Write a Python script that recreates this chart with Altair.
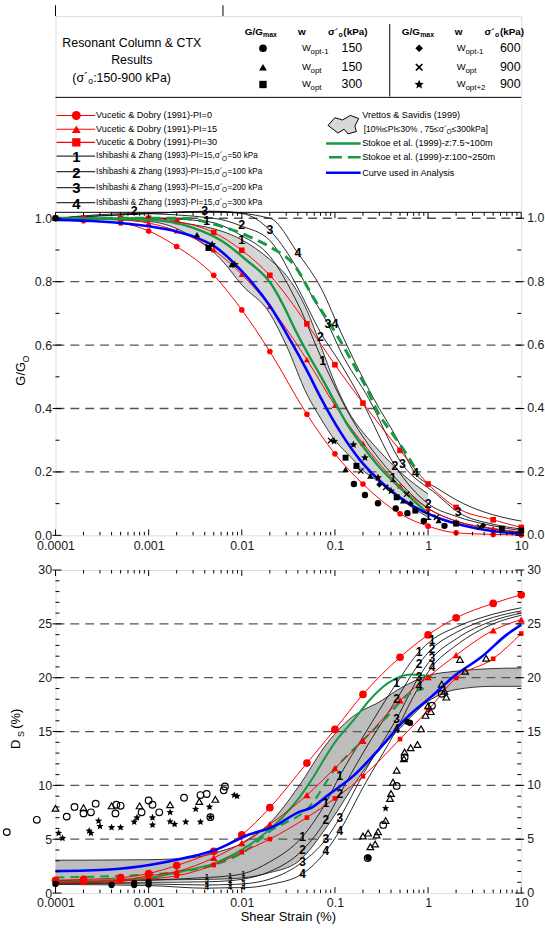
import altair as alt
import pandas as pd

# ---------------- chart data ----------------
VD_STRAIN = [0.0001, 0.0002, 0.0005, 0.001, 0.002, 0.005, 0.01, 0.02, 0.05, 0.1, 0.2, 0.5, 1, 2, 5, 10]
G_VD_PI0 = [1.0, 0.992, 0.985, 0.96, 0.911, 0.82, 0.711, 0.58, 0.382, 0.257, 0.162, 0.068, 0.029, 0.008, 0.003, 0.001]
G_VD_PI15 = [1.0, 1.0, 0.995, 0.985, 0.96, 0.9, 0.823, 0.722, 0.554, 0.41, 0.29, 0.156, 0.085, 0.045, 0.022, 0.01]
G_VD_PI30 = [1.0, 1.0, 1.0, 1.0, 0.99, 0.955, 0.899, 0.82, 0.667, 0.538, 0.417, 0.268, 0.162, 0.088, 0.049, 0.025]
D_VD_PI0 = [1.18, 1.27, 1.43, 1.82, 2.56, 3.88, 5.41, 7.93, 12.07, 15.2, 18.45, 21.9, 23.97, 25.56, 26.9, 27.7]
D_VD_PI15 = [1.0, 1.05, 1.2, 1.6, 2.0, 3.27, 4.65, 6.39, 9.09, 11.6, 14.15, 17.9, 20.07, 22.1, 24.4, 25.4]
D_VD_PI30 = [0.95, 1.0, 1.1, 1.3, 1.6, 2.6, 3.79, 5.01, 7.01, 8.79, 10.84, 14.3, 17.0, 19.98, 21.76, 24.1]

BLUE_G_S = [1e-4, 3e-4, 1e-3, 2e-3, 3.3e-3, 5e-3, 0.01, 0.02, 0.034, 0.05, 0.071, 0.116, 0.19, 0.33, 0.63, 1.23, 2.4, 6.3, 10]
BLUE_G = [0.995, 0.99, 0.975, 0.958, 0.938, 0.913, 0.833, 0.724, 0.61, 0.52, 0.432, 0.323, 0.234, 0.162, 0.099, 0.057, 0.031, 0.01, 0.006]
BLUE_D_S = [1e-4, 3.8e-4, 1.1e-3, 2.5e-3, 5.3e-3, 0.0118, 0.022, 0.042, 0.055, 0.084, 0.16, 0.3, 0.59, 1.1, 2.0, 3.8, 7.0, 10]
BLUE_D = [2.04, 2.19, 2.65, 3.27, 4.03, 5.41, 6.18, 7.56, 7.9, 9.09, 10.93, 13.39, 16.3, 18.29, 20.29, 21.97, 24.0, 24.9]

GREEN_G_S = [1e-4, 1e-3, 3e-3, 6e-3, 0.011, 0.021, 0.027, 0.037, 0.055, 0.068, 0.1, 0.136, 0.2, 0.282, 0.59, 0.95]
GREEN_G = [1.0, 0.995, 0.97, 0.93, 0.87, 0.79, 0.734, 0.651, 0.557, 0.51, 0.42, 0.349, 0.28, 0.224, 0.13, 0.075]
GREEN_D_S = [1e-4, 1e-3, 0.0019, 0.0052, 0.0108, 0.0225, 0.042, 0.055, 0.1, 0.16, 0.24, 0.37, 0.66, 1.1]
GREEN_D = [1.05, 1.4, 1.89, 2.8, 4.19, 6.33, 8.94, 10.4, 14.0, 16.1, 18.0, 19.5, 20.3, 20.1]

GDASH_G_S = [1e-4, 1e-3, 2.3e-3, 5.2e-3, 0.0118, 0.02, 0.037, 0.06, 0.106, 0.16, 0.21, 0.3, 0.42, 0.59, 0.8]
GDASH_G = [1.0, 1.0, 1.0, 0.98, 0.943, 0.91, 0.85, 0.745, 0.63, 0.537, 0.474, 0.38, 0.318, 0.255, 0.19]
GDASH_D_S = [1e-4, 1e-3, 0.005, 0.0108, 0.02, 0.055, 0.1, 0.2, 0.37, 0.59, 0.9]
GDASH_D = [1.45, 1.73, 2.6, 3.88, 5.72, 8.17, 11.5, 14.2, 16.45, 18.3, 18.97]

BAND_G_S = [1e-4, 1e-3, 3e-3, 6e-3, 0.01, 0.02, 0.03, 0.05, 0.07, 0.1, 0.15, 0.2, 0.3, 0.5, 1.0]
BAND_G_HI = [1.0, 0.995, 0.98, 0.96, 0.932, 0.87, 0.82, 0.71, 0.6, 0.48, 0.375, 0.325, 0.266, 0.2, 0.13]
BAND_G_LO = [1.0, 0.99, 0.94, 0.87, 0.79, 0.70, 0.6, 0.445, 0.37, 0.30, 0.245, 0.205, 0.168, 0.115, 0.057]
BAND_D_S = [1e-4, 1e-3, 3e-3, 6e-3, 0.01, 0.02, 0.04, 0.084, 0.146, 0.2, 0.28, 0.5, 1.0, 2.0, 5, 10]
BAND_D_HI = [3.05, 3.1, 3.3, 3.9, 4.6, 6.5, 9.8, 14.0, 16.2, 17.0, 17.6, 19.0, 20.2, 20.6, 20.85, 20.9]
BAND_D_LO = [1.18, 1.2, 1.25, 1.3, 1.4, 1.9, 2.9, 6.3, 9.5, 11.3, 13.0, 15.3, 17.8, 18.9, 19.2, 19.2]

IZ1_G_S = [1e-4, 1e-3, 0.0042, 0.01, 0.02, 0.04, 0.074, 0.15, 0.3, 0.42, 1, 2, 5, 10]
IZ1_G = [1.0, 1.0, 0.99, 0.945, 0.88, 0.73, 0.55, 0.37, 0.24, 0.19, 0.085, 0.045, 0.02, 0.01]
IZ2_G_S = [1e-4, 7e-4, 0.005, 0.01, 0.02, 0.04, 0.07, 0.116, 0.19, 0.44, 1, 2, 5, 10]
IZ2_G = [1.0, 1.015, 1.0, 0.975, 0.93, 0.78, 0.64, 0.54, 0.43, 0.22, 0.10, 0.06, 0.03, 0.015]
IZ3_G_S = [1e-4, 1e-3, 0.004, 0.01, 0.02, 0.036, 0.059, 0.084, 0.116, 0.23, 0.53, 1.23, 2.1, 5, 10]
IZ3_G = [1.0, 1.015, 1.022, 1.015, 0.962, 0.86, 0.745, 0.667, 0.578, 0.432, 0.224, 0.13, 0.073, 0.035, 0.02]
IZ4_G_S = [1e-4, 1e-3, 0.005, 0.02, 0.04, 0.072, 0.116, 0.17, 0.26, 0.46, 0.73, 1.23, 2.4, 6.3, 10]
IZ4_G = [1.0, 1.015, 1.022, 1.0, 0.89, 0.776, 0.64, 0.537, 0.432, 0.307, 0.195, 0.15, 0.1, 0.057, 0.045]

IZ_D_S = [1e-4, 1e-3, 0.0042, 0.0075, 0.0104, 0.02, 0.045, 0.08, 0.113, 0.2, 0.46, 0.8, 1.1, 2, 5, 10]
IZ1_D = [1.1, 1.2, 1.45, 1.6, 1.8, 2.9, 5.25, 8.4, 10.9, 14.5, 19.5, 22.4, 23.5, 24.7, 25.9, 26.5]
IZ2_D = [1.0, 1.0, 1.05, 1.15, 1.3, 2.0, 4.0, 6.8, 9.2, 13.0, 18.0, 21.3, 22.7, 24.2, 25.6, 26.2]
IZ3_D = [0.9, 0.85, 0.75, 0.8, 0.85, 1.3, 2.9, 5.0, 7.0, 11.0, 16.2, 20.1, 21.8, 23.6, 25.3, 26.0]
IZ4_D = [0.8, 0.7, 0.45, 0.5, 0.5, 0.8, 1.8, 3.9, 5.8, 9.8, 15.2, 19.2, 21.0, 23.0, 25.0, 25.8]

IZG_LBL_T = ["2", "3", "1", "1", "2", "3", "4", "2", "1", "3", "4", "1", "2", "3", "4", "2", "1", "3"]
IZG_LBL_S = [0.0007, 0.004, 0.0042, 0.01, 0.01, 0.02, 0.04, 0.07, 0.074, 0.084, 0.1, 0.42, 0.44, 0.53, 0.73, 1.0, 1.0, 2.1]
IZG_LBL_V = [1.022, 1.022, 0.99, 0.93, 0.978, 0.962, 0.89, 0.625, 0.55, 0.667, 0.667, 0.18, 0.22, 0.224, 0.195, 0.10, 0.06, 0.073]

# labels along the damping curves: low-strain stacks, then mid/high strain
IZD_LO_T = ["1", "2", "3", "4"] * 3
IZD_LO_S = [0.0042] * 4 + [0.0075] * 4 + [0.0104] * 4
IZD_LO_V = [1.45, 1.05, 0.75, 0.45, 1.6, 1.15, 0.8, 0.5, 1.8, 1.3, 0.85, 0.5]
IZD_HI_T = ["1", "2", "3", "4"] * 6
IZD_HI_S = [0.045] * 4 + [0.08] * 4 + [0.113] * 4 + [0.46] * 4 + [0.8] * 4 + [1.1] * 4
IZD_HI_V = [5.25, 4.0, 2.9, 1.8, 8.4, 6.8, 5.0, 3.9, 10.9, 9.2, 7.0, 5.8,
            19.5, 18.0, 16.2, 15.2, 22.4, 21.3, 20.1, 19.2, 23.5, 22.7, 21.8, 21.0]

# test points, G/Gmax
PG_CIRC_S = [1e-4, 0.16, 0.21, 0.29, 0.45, 0.6, 0.9, 1.5]
PG_CIRC = [1.0, 0.162, 0.127, 0.101, 0.085, 0.07, 0.045, 0.03]
PG_TRI_S = [1e-4, 3.3e-3, 7.8e-3, 0.13, 0.24, 0.54, 1.3]
PG_TRI = [1.0, 0.948, 0.854, 0.208, 0.1875, 0.109, 0.047]
PG_SQR_S = [4.4e-3, 0.13, 0.17, 0.46, 0.73, 2.0, 6.2, 10]
PG_SQR = [0.906, 0.245, 0.219, 0.12, 0.078, 0.037, 0.021, 0.015]
PG_DIA_S = [1e-4, 0.3, 0.65, 3.9]
PG_DIA = [1.0, 0.16, 0.1, 0.031]
PG_X_S = [4.4e-3, 0.09, 0.19, 0.35, 0.59, 1.23, 3.6]
PG_X = [0.91, 0.299, 0.203, 0.151, 0.13, 0.057, 0.026]
PG_STAR_S = [4.8e-3, 8.4e-3, 0.098, 0.158, 0.21, 0.29, 0.4]
PG_STAR = [0.917, 0.854, 0.297, 0.286, 0.245, 0.182, 0.14]

# test points, damping
PD_OC_S = [3.0e-5, 6.3e-5, 1.32e-4, 1.6e-4, 2e-4, 2.4e-4, 2.7e-4, 4.4e-4, 4.5e-4, 5e-4, 8.4e-4, 1e-3, 1.1e-3,
           1.3e-3, 2.4e-3, 3.6e-3, 4.2e-3, 4.6e-3, 6.4e-3, 6.6e-3, 0.225, 0.33, 0.46, 0.56, 1.1, 1.4]
PD_OC = [5.66, 6.8, 7.1, 8.0, 7.4, 7.5, 8.3, 7.4, 8.2, 8.1, 7.5, 8.6, 8.2, 7.5, 8.85, 9.1, 9.2, 7.05, 9.55, 9.9,
         3.25, 6.33, 9.95, 12.6, 17.4, 18.5]
PD_OT_S = [1e-4, 2e-4, 4e-4, 8e-4, 1.7e-3, 3.5e-3, 5.2e-3, 0.2, 0.227, 0.24, 0.27, 0.28, 0.29, 0.35, 0.39, 0.4, 0.42,
           0.46, 0.55, 0.56, 0.65, 0.77, 0.84, 0.94, 1.0, 1.07, 1.4, 1.5, 1.57, 2.2, 2.5, 4.2]
PD_OT = [7.87, 7.93, 8.1, 8.1, 8.2, 8.5, 8.7, 5.3, 5.57, 4.3, 4.55, 5.4, 5.7, 6.73, 8.79, 9.25, 10.3, 11.4, 12.47,
         13.1, 13.5, 13.8, 15.25, 16.5, 17.4, 16.85, 19.4, 18.75, 18.2, 21.7, 20.6, 21.8]
PD_STAR_S = [1.08e-4, 1.19e-4, 2.3e-4, 2.4e-4, 2.9e-4, 3e-4, 4e-4, 5e-4, 7e-4, 7.5e-4, 1.1e-3, 1.1e-3, 1.7e-3,
             1.7e-3, 1.9e-3, 2.5e-3, 3.2e-3, 3.6e-3, 4.5e-3, 4.6e-3, 8.3e-3, 8.9e-3, 0.35]
PD_STAR = [5.57, 5.1, 5.78, 5.57, 6.7, 6.2, 6.09, 6.09, 6.6, 7.0, 6.33, 7.0, 6.64, 7.5, 6.4, 6.6, 7.8, 6.6, 8.0,
           7.05, 9.1, 9.0, 7.87]
PD_FC_S = [1e-4, 4e-4, 7e-4, 7e-4, 1e-3, 1e-3, 0.228, 0.6, 0.64]
PD_FC = [0.85, 0.75, 0.75, 0.95, 0.8, 1.05, 3.3, 15.9, 15.8]

X_LABELS = [0.0001, 0.001, 0.01, 0.1, 1, 10]
G_LABELS = [0.0, 0.2, 0.4, 0.6, 0.8, 1.0]
D_LABELS = [0, 5, 10, 15, 20, 25, 30]

# ---------------- layout / style ----------------
W, HG, HD = 470, 524, 326
GMAX = HG / 320.0
FONT = "Liberation Sans, Arial, Helvetica, sans-serif"
RED, GREEN, BLUE, GRID = "#ff0000", "#139a43", "#0000ff", "#555555"
STAR = "M0,-1L0.265,-0.364L0.951,-0.309L0.428,0.139L0.588,0.809L0,0.45L-0.588,0.809L-0.428,0.139L-0.951,-0.309L-0.265,-0.364Z"
XMARK = "M-1,-0.7L-0.7,-1L0,-0.3L0.7,-1L1,-0.7L0.3,0L1,0.7L0.7,1L0,0.3L-0.7,1L-1,0.7L-0.3,0Z"
BLOB = "M-1,0.05L-0.55,-0.45L-0.05,-0.3L0.45,-0.6L1,-0.4L0.75,0.1L0.85,0.45L0.3,0.6L0.05,0.3L-0.35,0.55Z"
ONE = pd.DataFrame({"one": [1]})

xs = alt.Scale(type="log", domain=[1e-4, 10], nice=False)
XAX = alt.Axis(values=X_LABELS, format=".4~f", ticks=False, tickSize=0, domain=False, grid=False,
               labelPadding=4, labelFont=FONT, labelFontSize=12.5, labelColor="#1a1a1a",
               labelFlush=False, labelOverlap=False, title=None)
X = alt.X("s:Q", scale=xs, axis=XAX)
YG = alt.Y("v:Q", scale=alt.Scale(domain=[0, GMAX], nice=False, zero=False),
           axis=alt.Axis(values=G_LABELS, format=".1f", ticks=False, tickSize=0, domain=False, grid=False,
                         labelPadding=4, labelFont=FONT, labelFontSize=12.5, labelColor="#1a1a1a", title=None))
YD = alt.Y("v:Q", scale=alt.Scale(domain=[0, 30], nice=False),
           axis=alt.Axis(values=D_LABELS, format="d", ticks=False, tickSize=0, domain=False, grid=False,
                         labelPadding=4, labelFont=FONT, labelFontSize=12.5, labelColor="#1a1a1a", title=None))


def df(s, v, **cols):
    d = pd.DataFrame({"s": s, "v": v})
    for k, val in cols.items():
        d[k] = val
    return d


def line(d, Y, color, width, dash=None, interp="monotone"):
    kw = dict(color=color, strokeWidth=width, interpolate=interp)
    if dash:
        kw["strokeDash"] = dash
    enc = dict(x=X, y=Y)
    if "g" in d.columns:
        enc["detail"] = "g:N"
    return alt.Chart(d).mark_line(**kw).encode(**enc)


def pts(d, Y, shape, size, color="black", filled=True, sw=1.0):
    return alt.Chart(d).mark_point(shape=shape, size=size, filled=filled, color=color, opacity=1,
                                   strokeWidth=sw).encode(x=X, y=Y)


def txt(x, y, t, size=9.2, align="left", weight="normal", font=FONT, color="black", angle=None):
    kw = dict(text=t, align=align, baseline="middle", fontSize=size, fontWeight=weight, font=font, color=color)
    if angle is not None:
        kw["angle"] = angle
    return alt.Chart(ONE).mark_text(**kw).encode(x=alt.value(x), y=alt.value(y))


def hrule(x1, x2, y, color="black", width=1.0, dash=None):
    kw = dict(color=color, strokeWidth=width)
    if dash:
        kw["strokeDash"] = dash
    return alt.Chart(ONE).mark_rule(**kw).encode(x=alt.value(x1), x2=alt.value(x2), y=alt.value(y))


def vrule(x, y1, y2, color="black", width=1.0):
    return alt.Chart(ONE).mark_rule(color=color, strokeWidth=width).encode(
        x=alt.value(x), y=alt.value(y1), y2=alt.value(y2))


def sym(x, y, shape, size, color="black", filled=True, stroke=None):
    kw = dict(shape=shape, size=size, filled=filled, color=color, opacity=1)
    if stroke:
        kw["stroke"] = stroke
        kw["strokeWidth"] = 1
    return alt.Chart(ONE).mark_point(**kw).encode(x=alt.value(x), y=alt.value(y))


def frame_ticks(Y, H, top, major_y, minor_y, fmt):
    layers = []
    xmaj = pd.DataFrame({"s": [1e-4, 1e-3, 1e-2, 0.1, 1, 10]})
    xmin = pd.DataFrame({"s": [m * 10.0 ** k for k in range(-4, 1) for m in range(2, 10)]})
    for d, ln in ((xmaj, 6), (xmin, 3.5)):
        layers.append(alt.Chart(d).mark_rule(color="black").encode(x=X, y=alt.value(H), y2=alt.value(H - ln)))
        layers.append(alt.Chart(d).mark_rule(color="black").encode(x=X, y=alt.value(top), y2=alt.value(top + ln)))
    ymaj = pd.DataFrame({"v": major_y})
    ymin = pd.DataFrame({"v": minor_y})
    layers.append(alt.Chart(ymaj).mark_rule(color="black").encode(y=Y, x=alt.value(-3), x2=alt.value(6)))
    layers.append(alt.Chart(ymin).mark_rule(color="black").encode(y=Y, x=alt.value(0), x2=alt.value(4)))
    layers.append(alt.Chart(ymaj).mark_rule(color="black").encode(y=Y, x=alt.value(W + 3), x2=alt.value(W - 6)))
    layers.append(alt.Chart(ymin).mark_rule(color="black").encode(y=Y, x=alt.value(W), x2=alt.value(W - 4)))
    lab = pd.DataFrame({"v": major_y, "lab": [format(v, fmt) for v in major_y]})
    layers.append(alt.Chart(lab).mark_text(align="left", baseline="middle", font=FONT, fontSize=12.5,
                                           color="#1a1a1a").encode(y=Y, x=alt.value(W + 6), text="lab:N"))
    return layers


def gridlines(Y, vals):
    return alt.Chart(pd.DataFrame({"v": vals})).mark_rule(color=GRID, strokeWidth=1.3, strokeDash=[9, 6]).encode(
        y=Y, x=alt.value(0), x2=alt.value(W))


# ================= G / Gmax chart =================
gL = []
gL.append(vrule(-52.3, 0, 1, color="white"))
# fragments of the frame above the legend box
gL.append(vrule(0, -11, 0))
gL.append(vrule(169, -11, 0))
band_g = df(BAND_G_S, BAND_G_HI, v2=BAND_G_LO)
gL.append(alt.Chart(band_g).mark_area(color="#d5d5d5", interpolate="monotone").encode(x=X, y=YG, y2="v2:Q"))
gL.append(gridlines(YG, [0.2, 0.4, 0.6, 0.8, 1.0]))
gL.append(line(pd.concat([df(BAND_G_S, BAND_G_HI, g="hi"), df(BAND_G_S, BAND_G_LO, g="lo")]), YG, "#222", 0.9))
iz_g = pd.concat([df(IZ1_G_S, IZ1_G, g="1"), df(IZ2_G_S, IZ2_G, g="2"),
                  df(IZ3_G_S, IZ3_G, g="3"), df(IZ4_G_S, IZ4_G, g="4")])
gL.append(line(iz_g, YG, "#111", 0.9))
for vals, shape, size in ((G_VD_PI0, "circle", 32), (G_VD_PI15, "triangle-up", 38), (G_VD_PI30, "square", 32)):
    d = df(VD_STRAIN, vals)
    gL.append(line(d, YG, RED, 1.0))
    gL.append(pts(d, YG, shape, size, RED))
gL.append(line(df(GREEN_G_S, GREEN_G), YG, GREEN, 2.4))
gL.append(line(df(GDASH_G_S, GDASH_G), YG, GREEN, 3.0, dash=[10, 6]))
gL.append(line(df(BLUE_G_S, BLUE_G), YG, BLUE, 2.6))
gL.append(pts(df(PG_CIRC_S, PG_CIRC), YG, "circle", 42))
gL.append(pts(df(PG_TRI_S, PG_TRI), YG, "triangle-up", 42))
gL.append(pts(df(PG_SQR_S, PG_SQR), YG, "square", 36))
gL.append(pts(df(PG_DIA_S, PG_DIA), YG, "diamond", 40))
gL.append(pts(df(PG_X_S, PG_X), YG, XMARK, 40))
gL.append(pts(df(PG_STAR_S, PG_STAR), YG, STAR, 70))
gL.append(alt.Chart(pd.DataFrame({"s": IZG_LBL_S, "v": IZG_LBL_V, "t": IZG_LBL_T})).mark_text(
    font=FONT, fontWeight="bold", fontSize=12.5, baseline="middle").encode(x=X, y=YG, text="t:N"))
gL += frame_ticks(YG, HG, 198, [0.0, 0.2, 0.4, 0.6, 0.8, 1.0], [0.1, 0.3, 0.5, 0.7, 0.9], ".1f")
gL.append(hrule(0, W, 198))
gL.append(hrule(0, W, 82))
gL.append(vrule(337.3, 8, 81))
# y title
gL.append(txt(-35, 361, "G/G", 13, "center", angle=270))
gL.append(txt(-29.5, 346, "O", 9, "center", angle=270))

# ---- legend: test results ----
gL.append(txt(77, 27, "Resonant Column  & CTX", 12.5, "center"))
gL.append(txt(77, 44.5, "Results", 12.5, "center"))
gL.append(txt(33, 62, "(σ´", 12.5, "right"))
gL.append(txt(35.5, 65.5, "o", 8.5, "center"))
gL.append(txt(38, 62, ":150-900 kPa)", 12.5, "left"))
for gx, wx, sx in ((191, 248.7, 275), (349.5, 406.8, 433)):
    gL.append(txt(gx, 16, "G/G", 10, "left", "bold"))
    gL.append(txt(gx + 18.5, 19.5, "max", 7, "left", "bold"))
    gL.append(txt(wx, 16, "w", 10, "center", "bold"))
    gL.append(txt(sx, 16, "σ´", 10, "left", "bold"))
    gL.append(txt(sx + 10.5, 19.5, "o", 7, "left", "bold"))
    gL.append(txt(sx + 15.5, 16, "(kPa)", 10, "left", "bold"))
ROWS_TOP = [32.4, 51.6, 69]
COL1 = [("circle", 60, "opt-1", "150"), ("triangle-up", 60, "opt", "150"), ("square", 55, "opt", "300")]
COL2 = [("diamond", 60, "opt-1", "600"), (XMARK, 60, "opt", "900"), (STAR, 95, "opt+2", "900")]
for col, symx, wx, valx in ((COL1, 209.4, 248.7, 309.5), (COL2, 367, 405, 469.4)):
    for (shape, size, sub, val), ry in zip(col, ROWS_TOP):
        gL.append(sym(symx, ry, shape, size))
        gL.append(txt(wx, ry, "W", 9.5, "left"))
        gL.append(txt(wx + 8.7, ry + 3.5, sub, 8, "left"))
        gL.append(txt(valx, ry, val, 12.5, "right"))

# ---- legend: curves ----
ROWS = [100.3, 114.2, 127.4, 141.4, 157, 173, 188.3]
for (shape, size, label), ry in zip((("circle", 80, "Vucetic & Dobry (1991)-PI=0"),
                                     ("triangle-up", 80, "Vucetic & Dobry (1991)-PI=15"),
                                     ("square", 70, "Vucetic & Dobry (1991)-PI=30")), ROWS[:3]):
    gL.append(hrule(1, 40, ry, RED, 1.2))
    gL.append(sym(21, ry, shape, size, RED))
    gL.append(txt(41, ry, label, 9.2))
for num, press, ry in zip(("1", "2", "3", "4"), ("=50 kPa", "=100 kPa", "=200 kPa", "=300 kPa"), ROWS[3:]):
    gL.append(hrule(1, 40, ry, "#333", 1.3))
    gL.append(txt(21, ry + 1, num, 15, "center", "bold"))
    gL.append(txt(41, ry, "Ishibashi & Zhang (1993)-PI=15,σ´", 8.3, "left"))
    gL.append(txt(170.5, ry + 3, "O", 6.5, "center"))
    gL.append(txt(173.5, ry, press, 8.3, "left"))
gL.append(sym(290.5, 109.5, BLOB, 960, "#d8d8d8", True, "black"))
gL.append(txt(309.5, 99.6, "Vrettos & Savidis (1999)", 9.2))
gL.append(txt(311, 113.5, "[10%≤PI≤30% , 75≤σ´", 8.6, "left"))
gL.append(txt(397, 116.5, "O", 6.5, "center"))
gL.append(txt(400, 113.5, "≤300kPa]", 8.6, "left"))
gL.append(hrule(273, 308, 128.5, GREEN, 2.5))
gL.append(txt(309.5, 128.5, "Stokoe et al. (1999)-z:7.5~100m", 9.2))
gL.append(hrule(276, 308, 142.4, GREEN, 2.5, dash=[13, 6]))
gL.append(txt(309.5, 142.4, "Stokoe et al. (1999)-z:100~250m", 9.2))
gL.append(hrule(273, 308, 158, BLUE, 2.5))
gL.append(txt(309.5, 158, "Curve used in Analysis", 9.2))

g_chart = alt.layer(*gL).properties(width=W, height=HG)

# ================= Damping chart =================
dL = []
dL.append(vrule(-52.3, 0, 1, color="white"))
band_d = df(BAND_D_S, BAND_D_HI, v2=BAND_D_LO)
dL.append(alt.Chart(band_d).mark_area(color="#bdbdbd", interpolate="monotone").encode(x=X, y=YD, y2="v2:Q"))
dL.append(gridlines(YD, [5, 10, 15, 20, 25]))
dL.append(line(pd.concat([df(BAND_D_S, BAND_D_HI, g="hi"), df(BAND_D_S, BAND_D_LO, g="lo")]), YD, "#222", 0.9))
iz_d = pd.concat([df(IZ_D_S, IZ1_D, g="1"), df(IZ_D_S, IZ2_D, g="2"),
                  df(IZ_D_S, IZ3_D, g="3"), df(IZ_D_S, IZ4_D, g="4")])
dL.append(line(iz_d, YD, "#111", 0.9))
dL.append(line(df(GREEN_D_S, GREEN_D), YD, GREEN, 2.0))
dL.append(line(df(GDASH_D_S, GDASH_D), YD, GREEN, 2.0, dash=[9, 6]))
for vals, shape, size in ((D_VD_PI0, "circle", 60), (D_VD_PI15, "triangle-up", 55), (D_VD_PI30, "square", 22)):
    d = df(VD_STRAIN, vals)
    dL.append(line(d, YD, RED, 1.0))
    dL.append(pts(d, YD, shape, size, RED))
dL.append(line(df(BLUE_D_S, BLUE_D), YD, BLUE, 2.6))
dL.append(pts(df(PD_OC_S, PD_OC), YD, "circle", 45, filled=False, sw=1.2))
dL.append(pts(df(PD_OT_S, PD_OT), YD, "triangle-up", 45, filled=False, sw=1.2))
dL.append(pts(df(PD_STAR_S, PD_STAR), YD, STAR, 60))
dL.append(pts(df(PD_FC_S, PD_FC), YD, "circle", 40))
dL.append(alt.Chart(pd.DataFrame({"s": IZD_LO_S, "v": IZD_LO_V, "t": IZD_LO_T})).mark_text(
    font=FONT, fontWeight="bold", fontSize=7.5, baseline="middle").encode(x=X, y=YD, text="t:N"))
dL.append(alt.Chart(pd.DataFrame({"s": IZD_HI_S, "v": IZD_HI_V, "t": IZD_HI_T})).mark_text(
    font=FONT, fontWeight="bold", fontSize=12, baseline="middle").encode(x=X, y=YD, text="t:N"))
dL += frame_ticks(YD, HD, 0, D_LABELS, [v for v in range(1, 30) if v % 5], "d")
dL.append(txt(-39.5, 176, "D", 13, "center", angle=270))
dL.append(txt(-35, 165.5, "S", 9, "center", angle=270))
dL.append(txt(-39.5, 150, "(%)", 13, "center", angle=270))
dL.append(txt(W / 2, HD + 24, "Shear Strain (%)", 13, "center"))

d_chart = alt.layer(*dL).properties(width=W, height=HD)

chart = alt.vconcat(g_chart, d_chart, spacing=11).properties(
    padding={"left": 0, "top": 0, "right": 0, "bottom": 0}
).configure_view(stroke="black", strokeWidth=1).configure(background="white")

chart.save("out.html", embed_options={"renderer": "svg", "actions": False})
